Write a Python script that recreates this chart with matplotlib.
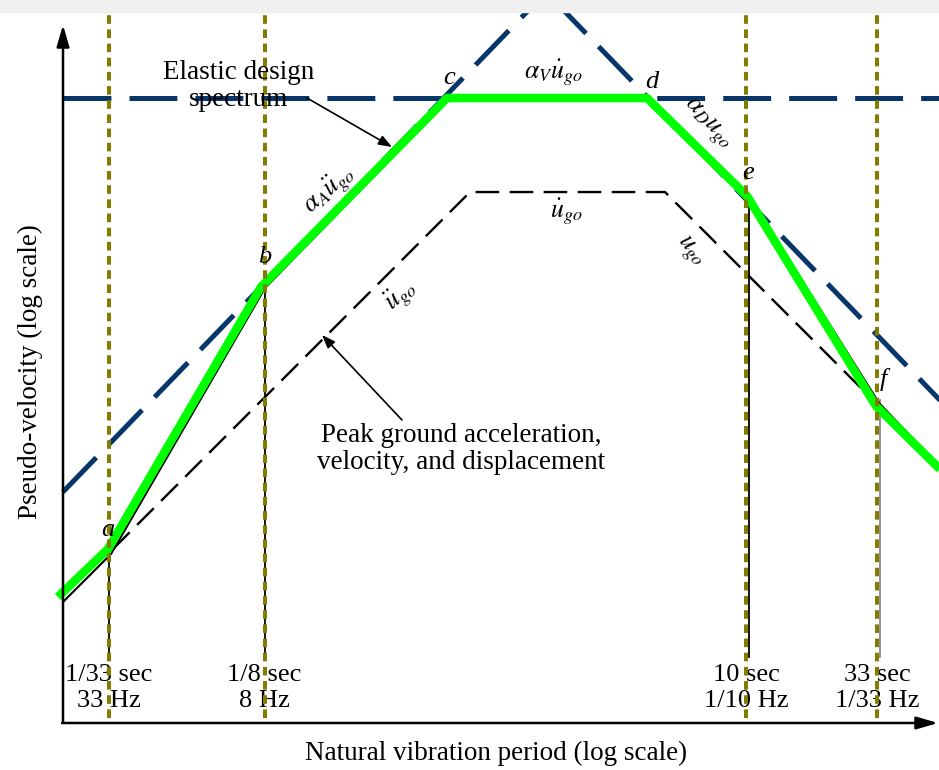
import matplotlib.pyplot as plt
from matplotlib.patches import Rectangle, FancyArrowPatch

plt.rcParams['font.family'] = ['Liberation Serif', 'DejaVu Serif']
plt.rcParams['mathtext.fontset'] = 'stix'
plt.rcParams['lines.scale_dashes'] = False

W, H = 939, 770
TOP_BAND = 12

# corner periods (s) marked along the period axis
tick_periods = [1/33, 1/8, 10, 33]
tick_labels = ['1/33 sec\n33 Hz', '1/8 sec\n8 Hz', '10 sec\n1/10 Hz', '33 sec\n1/33 Hz']

# elastic design spectrum: highlighted trace and the thin line under it
design_T = [0.01905, 0.03006, 0.1210, 0.6577, 4.060, 10.09, 32.63, 61.1]
design_V = [1.066, 1.650, 17.91, 100, 100, 40.99, 6.06, 3.265]
spectrum_T = [0.01995, 0.03090, 0.1255, 0.6698, 4.135, 10.37, 33.54, 61.1]
spectrum_V = [1.018, 1.576, 17.74, 99.1, 99.1, 40.25, 6.23, 3.324]

# amplified bounds alpha_A*a, alpha_V*v, alpha_D*d
amp_T = [0.01995, 1.620, 70.1]
amp_V = [2.772, 262.4, 5.29]
amp_vel_T = [0.01995, 70.1]
amp_vel_V = [100, 100]

# peak ground acceleration, velocity and displacement
ground_T = [0.03147, 0.8107, 4.782, 31.46]
ground_V = [1.650, 42.50, 42.50, 6.46]

# thin drop lines at the spectrum corners
drop_T = [1/33, 1/8, 10.27, 33.84]
drop_top_V = [1.591, 17.42, 40.62, 6.40]
drop_bottom_V = 0.617
drop_colors = ['black', 'black', 'black', '#8a8a8a']

# period guides
guide_bottom_V = 0.3542
guide_top_V = 240


def fp(x, y):
    # pixel position -> figure fraction
    return x / W, 1 - y / H


fig = plt.figure(figsize=(W / 100, H / 100), dpi=100)
fig.patches.append(Rectangle((0, 1 - TOP_BAND / H), 1, TOP_BAND / H,
                             transform=fig.transFigure, color='#f0f0f0', zorder=0))

ax = fig.add_axes([0, 0, 1, (H - TOP_BAND) / H])
ax.set_xscale('log')
ax.set_yscale('log')
ax.set_xlim(0.01125, 57.9)
ax.set_ylim(0.2207, 218.8)
ax.axis('off')

navy = '#07366a'
olive = '#827c00'

# amplified bounds
ax.plot(amp_vel_T, amp_vel_V, color=navy, lw=3.6, dashes=(34.5, 13), zorder=3)
ax.plot(amp_T, amp_V, color=navy, lw=3.6, dashes=(34.5, 13), zorder=3)

# ground motion
ax.plot(ground_T, ground_V, color='black', lw=1.7, dashes=(17, 7.5), zorder=3)

# drop lines
for t, v, c in zip(drop_T, drop_top_V, drop_colors):
    ax.plot([t, t], [drop_bottom_V, v], color=c, lw=1.3, zorder=3)

# design spectrum
ax.plot(spectrum_T, spectrum_V, color='black', lw=1.5, zorder=4)
ax.plot(design_T, design_V, color='#00ff00', lw=6.2, zorder=5,
        solid_capstyle='butt')

# period guides
for t in tick_periods:
    ax.plot([t, t], [guide_bottom_V, guide_top_V], color=olive, lw=2.9,
            dashes=(6.2, 4.0), zorder=6)

# tick labels under the guides
xt = ax.get_xaxis_transform()
for t, lab in zip(tick_periods, tick_labels):
    ax.text(t, (H - 688) / (H - TOP_BAND), lab, transform=xt, ha='center',
            va='center', fontsize=19, linespacing=1.18, zorder=2)

# axes with arrow heads
arrow_kw = dict(arrowstyle='-|>,head_length=13,head_width=3.8', mutation_scale=1,
                lw=1.8, color='black', shrinkA=0, shrinkB=0)
fig.add_artist(FancyArrowPatch(fp(63, 723), fp(63, 25),
                               transform=fig.transFigure, **arrow_kw))
fig.add_artist(FancyArrowPatch(fp(62, 723), fp(938, 723),
                               transform=fig.transFigure, **arrow_kw))

fig.text(*fp(30, 372), 'Pseudo-velocity (log scale)', rotation=90,
         ha='center', va='center', fontsize=19.5)
fig.text(*fp(496, 753), 'Natural vibration period (log scale)',
         ha='center', va='center', fontsize=19.5)

# callouts
fig.text(*fp(239, 86), 'Elastic design\nspectrum', ha='center', va='center',
         fontsize=19.5, linespacing=1.15, zorder=1)
fig.text(*fp(461, 449), 'Peak ground acceleration,\nvelocity, and displacement',
         ha='center', va='center', fontsize=19.5, linespacing=1.15)

head_kw = dict(arrowstyle='-|>,head_length=8,head_width=3', mutation_scale=1,
               lw=1.2, color='black', shrinkA=0, shrinkB=0)
ax.annotate('', xy=fp(392, 147), xytext=fp(307, 98), xycoords='figure fraction',
            textcoords='figure fraction', arrowprops=head_kw, zorder=7)
ax.annotate('', xy=fp(322, 335), xytext=fp(402, 420), xycoords='figure fraction',
            textcoords='figure fraction', arrowprops=head_kw, zorder=7)

# corner letters
for s, x, y in [('a', 108, 530), ('b', 265, 257), ('c', 449, 78),
                ('d', 652, 82), ('e', 748, 173), ('f', 883, 380)]:
    fig.text(*fp(x, y), s, style='italic', ha='center', va='center', fontsize=19)

# segment labels
for s, x, y, rot in [(r'$\alpha_A\ddot{u}_{go}$', 329, 190, 41),
                     (r'$\alpha_V\dot{u}_{go}$', 554, 73, 0),
                     (r'$\alpha_D u_{go}$', 707, 124, -47),
                     (r'$\dot{u}_{go}$', 566, 212, 0),
                     (r'$u_{go}$', 690, 252, -50),
                     (r'$\ddot{u}_{go}$', 401, 296, 40)]:
    fig.text(*fp(x, y), s, rotation=rot, rotation_mode='anchor',
             ha='center', va='center', fontsize=18.5)

fig.savefig('out.png', dpi=100)
